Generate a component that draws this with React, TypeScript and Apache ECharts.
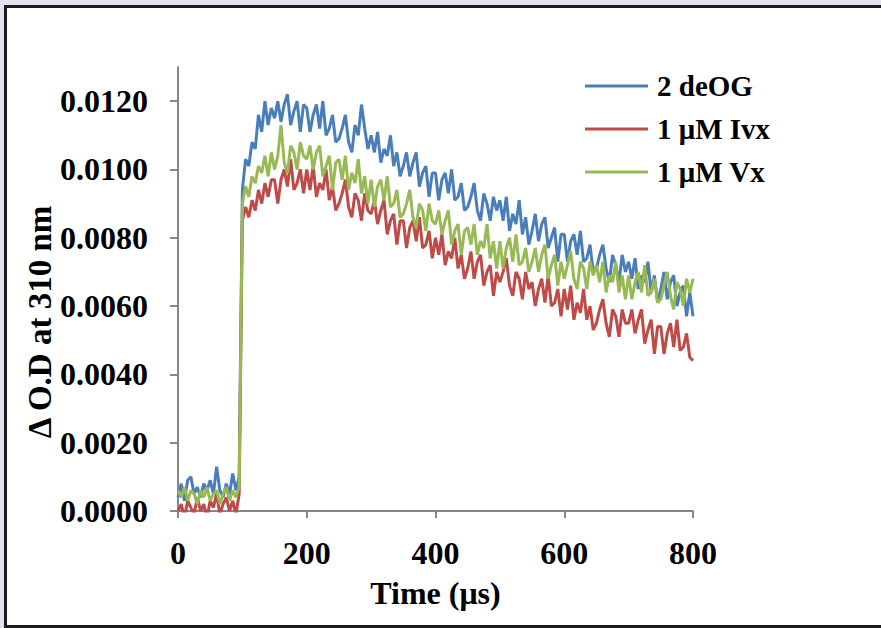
import React, { useEffect, useRef } from "react";
import * as echarts from "echarts";

const time = [
  0, 5, 10, 15, 20, 25, 30, 35, 40, 45, 50, 55, 60, 65, 70, 75, 80, 85, 90, 95,
  100, 105, 110, 115, 120, 125, 130, 135, 140, 145, 150, 155, 160, 165, 170, 175, 180, 185, 190, 195,
  200, 205, 210, 215, 220, 225, 230, 235, 240, 245, 250, 255, 260, 265, 270, 275, 280, 285, 290, 295,
  300, 305, 310, 315, 320, 325, 330, 335, 340, 345, 350, 355, 360, 365, 370, 375, 380, 385, 390, 395,
  400, 405, 410, 415, 420, 425, 430, 435, 440, 445, 450, 455, 460, 465, 470, 475, 480, 485, 490, 495,
  500, 505, 510, 515, 520, 525, 530, 535, 540, 545, 550, 555, 560, 565, 570, 575, 580, 585, 590, 595,
  600, 605, 610, 615, 620, 625, 630, 635, 640, 645, 650, 655, 660, 665, 670, 675, 680, 685, 690, 695,
  700, 705, 710, 715, 720, 725, 730, 735, 740, 745, 750, 755, 760, 765, 770, 775, 780, 785, 790, 795,
  800,
];

const deOG2 = [
  0.0004, 0.0008, 0.0003, 0.0009, 0.0010, 0.0005, 0.0007, 0.0004, 0.0008, 0.0006,
  0.0009, 0.0005, 0.0013, 0.0006, 0.0004, 0.0008, 0.0005, 0.0011, 0.0006, 0.0010,
  0.0094, 0.0103, 0.0101, 0.0108, 0.0106, 0.0116, 0.0111, 0.0120, 0.0113, 0.0118,
  0.0115, 0.0120, 0.0114, 0.0119, 0.0122, 0.0113, 0.0117, 0.0120, 0.0111, 0.0119,
  0.0118, 0.0111, 0.0116, 0.0119, 0.0112, 0.0120, 0.0110, 0.0112, 0.0116, 0.0108,
  0.0109, 0.0112, 0.0116, 0.0108, 0.0105, 0.0113, 0.0110, 0.0119, 0.0112, 0.0106,
  0.0110, 0.0105, 0.0111, 0.0102, 0.0106, 0.0104, 0.0110, 0.0101, 0.0105, 0.0098,
  0.0101, 0.0105, 0.0098, 0.0102, 0.0105, 0.0095, 0.0099, 0.0101, 0.0092, 0.0099,
  0.0099, 0.0091, 0.0097, 0.0099, 0.0093, 0.0100, 0.0091, 0.0092, 0.0096, 0.0088,
  0.0089, 0.0092, 0.0096, 0.0088, 0.0085, 0.0093, 0.0090, 0.0085, 0.0092, 0.0088,
  0.0091, 0.0085, 0.0092, 0.0082, 0.0087, 0.0084, 0.0091, 0.0081, 0.0086, 0.0078,
  0.0082, 0.0087, 0.0079, 0.0084, 0.0086, 0.0077, 0.0080, 0.0083, 0.0073, 0.0081,
  0.0081, 0.0073, 0.0079, 0.0081, 0.0075, 0.0082, 0.0073, 0.0074, 0.0078, 0.0070,
  0.0071, 0.0075, 0.0078, 0.0071, 0.0067, 0.0075, 0.0072, 0.0067, 0.0075, 0.0070,
  0.0073, 0.0068, 0.0074, 0.0065, 0.0069, 0.0067, 0.0073, 0.0064, 0.0069, 0.0061,
  0.0065, 0.0070, 0.0062, 0.0067, 0.0069, 0.0060, 0.0064, 0.0066, 0.0057, 0.0064,
  0.0057,
];

const ivx1 = [
  0.0000, 0.0002, -0.0002, 0.0003, 0.0001, -0.0001, 0.0004, 0.0000, 0.0002, -0.0002,
  0.0003, 0.0001, 0.0005, -0.0001, 0.0002, 0.0004, 0.0000, 0.0003, -0.0001, 0.0005,
  0.0085, 0.0089, 0.0086, 0.0091, 0.0088, 0.0094, 0.0090, 0.0096, 0.0092, 0.0097,
  0.0097, 0.0090, 0.0097, 0.0100, 0.0095, 0.0103, 0.0094, 0.0096, 0.0100, 0.0093,
  0.0100, 0.0094, 0.0101, 0.0092, 0.0096, 0.0094, 0.0100, 0.0091, 0.0095, 0.0088,
  0.0090, 0.0093, 0.0097, 0.0089, 0.0086, 0.0093, 0.0091, 0.0085, 0.0093, 0.0088,
  0.0087, 0.0091, 0.0084, 0.0088, 0.0091, 0.0081, 0.0085, 0.0087, 0.0078, 0.0085,
  0.0085, 0.0077, 0.0083, 0.0085, 0.0079, 0.0086, 0.0077, 0.0078, 0.0082, 0.0074,
  0.0080, 0.0075, 0.0081, 0.0072, 0.0076, 0.0074, 0.0080, 0.0071, 0.0075, 0.0068,
  0.0071, 0.0076, 0.0068, 0.0073, 0.0075, 0.0066, 0.0070, 0.0072, 0.0063, 0.0070,
  0.0067, 0.0070, 0.0074, 0.0066, 0.0063, 0.0070, 0.0068, 0.0062, 0.0070, 0.0065,
  0.0067, 0.0060, 0.0065, 0.0068, 0.0061, 0.0069, 0.0060, 0.0061, 0.0065, 0.0057,
  0.0065, 0.0059, 0.0066, 0.0056, 0.0061, 0.0058, 0.0065, 0.0056, 0.0060, 0.0053,
  0.0055, 0.0059, 0.0062, 0.0055, 0.0051, 0.0059, 0.0057, 0.0051, 0.0059, 0.0055,
  0.0055, 0.0059, 0.0052, 0.0056, 0.0059, 0.0049, 0.0053, 0.0056, 0.0046, 0.0054,
  0.0054, 0.0046, 0.0052, 0.0055, 0.0048, 0.0056, 0.0047, 0.0048, 0.0052, 0.0045,
  0.0044,
];

const vx1 = [
  0.0006, 0.0004, 0.0007, 0.0003, 0.0006, 0.0005, 0.0002, 0.0006, 0.0004, 0.0007,
  0.0003, 0.0005, 0.0006, 0.0002, 0.0005, 0.0007, 0.0003, 0.0006, 0.0004, 0.0007,
  0.0090, 0.0095, 0.0092, 0.0098, 0.0096, 0.0101, 0.0099, 0.0104, 0.0098, 0.0105,
  0.0100, 0.0104, 0.0113, 0.0102, 0.0099, 0.0107, 0.0105, 0.0100, 0.0108, 0.0104,
  0.0103, 0.0107, 0.0100, 0.0105, 0.0107, 0.0098, 0.0101, 0.0104, 0.0094, 0.0102,
  0.0103, 0.0097, 0.0104, 0.0094, 0.0099, 0.0096, 0.0103, 0.0093, 0.0098, 0.0090,
  0.0097, 0.0089, 0.0095, 0.0097, 0.0091, 0.0098, 0.0089, 0.0090, 0.0094, 0.0086,
  0.0087, 0.0090, 0.0094, 0.0086, 0.0083, 0.0090, 0.0088, 0.0082, 0.0090, 0.0085,
  0.0084, 0.0088, 0.0081, 0.0085, 0.0088, 0.0078, 0.0082, 0.0084, 0.0075, 0.0082,
  0.0083, 0.0078, 0.0084, 0.0075, 0.0079, 0.0077, 0.0084, 0.0074, 0.0079, 0.0071,
  0.0079, 0.0071, 0.0077, 0.0080, 0.0073, 0.0081, 0.0072, 0.0073, 0.0077, 0.0070,
  0.0073, 0.0077, 0.0070, 0.0075, 0.0078, 0.0068, 0.0072, 0.0075, 0.0066, 0.0073,
  0.0068, 0.0072, 0.0076, 0.0068, 0.0065, 0.0073, 0.0071, 0.0065, 0.0073, 0.0069,
  0.0072, 0.0067, 0.0073, 0.0064, 0.0069, 0.0067, 0.0073, 0.0064, 0.0069, 0.0062,
  0.0069, 0.0062, 0.0067, 0.0070, 0.0064, 0.0072, 0.0063, 0.0064, 0.0068, 0.0061,
  0.0062, 0.0066, 0.0070, 0.0063, 0.0059, 0.0067, 0.0065, 0.0060, 0.0068, 0.0064,
  0.0068,
];

const seriesNames = ["2 deOG", "1 μM Ivx", "1 μM Vx"];
const seriesColors = ["#4a7ebb", "#be4b48", "#98b954"];
const yTicks = [0, 0.002, 0.004, 0.006, 0.008, 0.01, 0.012];
const xTicks = [0, 200, 400, 600, 800];
const yTitle = "Δ O.D at 310 nm";
const xTitle = "Time (μs)";

const FONT = "'Liberation Serif', 'Times New Roman', serif";

export default function App() {
  const ref = useRef<HTMLDivElement>(null);
  useEffect(() => {
    if (!ref.current) return;
    const chart = echarts.init(ref.current, null, { renderer: "svg" });
    const all = [deOG2, ivx1, vx1];
    const axisLine = { lineStyle: { color: "#878787", width: 2 } };
    chart.setOption({
      animation: false,
      backgroundColor: "transparent",
      grid: { left: 178, right: 188, top: 67, bottom: 117 },
      legend: {
        orient: "vertical",
        left: 585,
        top: 71,
        padding: 0,
        icon: "rect",
        itemWidth: 63,
        itemHeight: 3,
        itemGap: 13,
        data: seriesNames,
        textStyle: {
          fontFamily: FONT,
          fontWeight: "bold",
          fontSize: 29,
          color: "#000",
          lineHeight: 30,
          padding: [0, 0, 0, 4],
        },
      },
      graphic: [
        {
          type: "text",
          x: 40,
          y: 322,
          rotation: Math.PI / 2,
          style: {
            text: yTitle,
            fontFamily: FONT,
            fontWeight: "bold",
            fontSize: 33,
            fill: "#000",
            textAlign: "center",
            textVerticalAlign: "middle",
          },
        },
      ],
      xAxis: {
        type: "value",
        min: 0,
        max: 800,
        interval: 200,
        name: xTitle,
        nameLocation: "middle",
        nameGap: 66,
        nameTextStyle: { fontFamily: FONT, fontWeight: "bold", fontSize: 32, color: "#000" },
        axisLine,
        axisTick: { show: true, length: 7, lineStyle: { color: "#878787", width: 2 }, customValues: xTicks },
        axisLabel: {
          fontFamily: FONT,
          fontWeight: "bold",
          fontSize: 32,
          color: "#000",
          margin: 26,
          customValues: xTicks,
        },
        splitLine: { show: false },
      },
      yAxis: {
        type: "value",
        min: 0,
        max: 0.013,
        interval: 0.002,
        axisLine: { show: true, ...axisLine },
        axisTick: { show: true, length: 8, lineStyle: { color: "#878787", width: 2 }, customValues: yTicks },
        axisLabel: {
          fontFamily: FONT,
          fontWeight: "bold",
          fontSize: 32,
          color: "#000",
          margin: 30,
          customValues: yTicks,
          formatter: (v: number) => v.toFixed(4),
        },
        splitLine: { show: false },
      },
      series: all.map((arr, i) => ({
        name: seriesNames[i],
        type: "line",
        symbol: "none",
        data: time.map((t, j) => [t, arr[j]]),
        lineStyle: { color: seriesColors[i], width: 3 },
        itemStyle: { color: seriesColors[i] },
        z: 2 + i,
      })),
    });
    return () => chart.dispose();
  }, []);

  return (
    <div style={{ position: "fixed", left: 0, top: 0, width: 881, height: 628, background: "#e4e1ef", overflow: "hidden" }}>
      <div
        style={{
          position: "absolute",
          left: 4,
          top: 5,
          width: 900,
          height: 623,
          boxSizing: "border-box",
          border: "3px solid #1c1c1c",
          background: "#ffffff",
        }}
      />
      <div ref={ref} style={{ position: "absolute", left: 0, top: 0, width: 881, height: 628 }} />
    </div>
  );
}
